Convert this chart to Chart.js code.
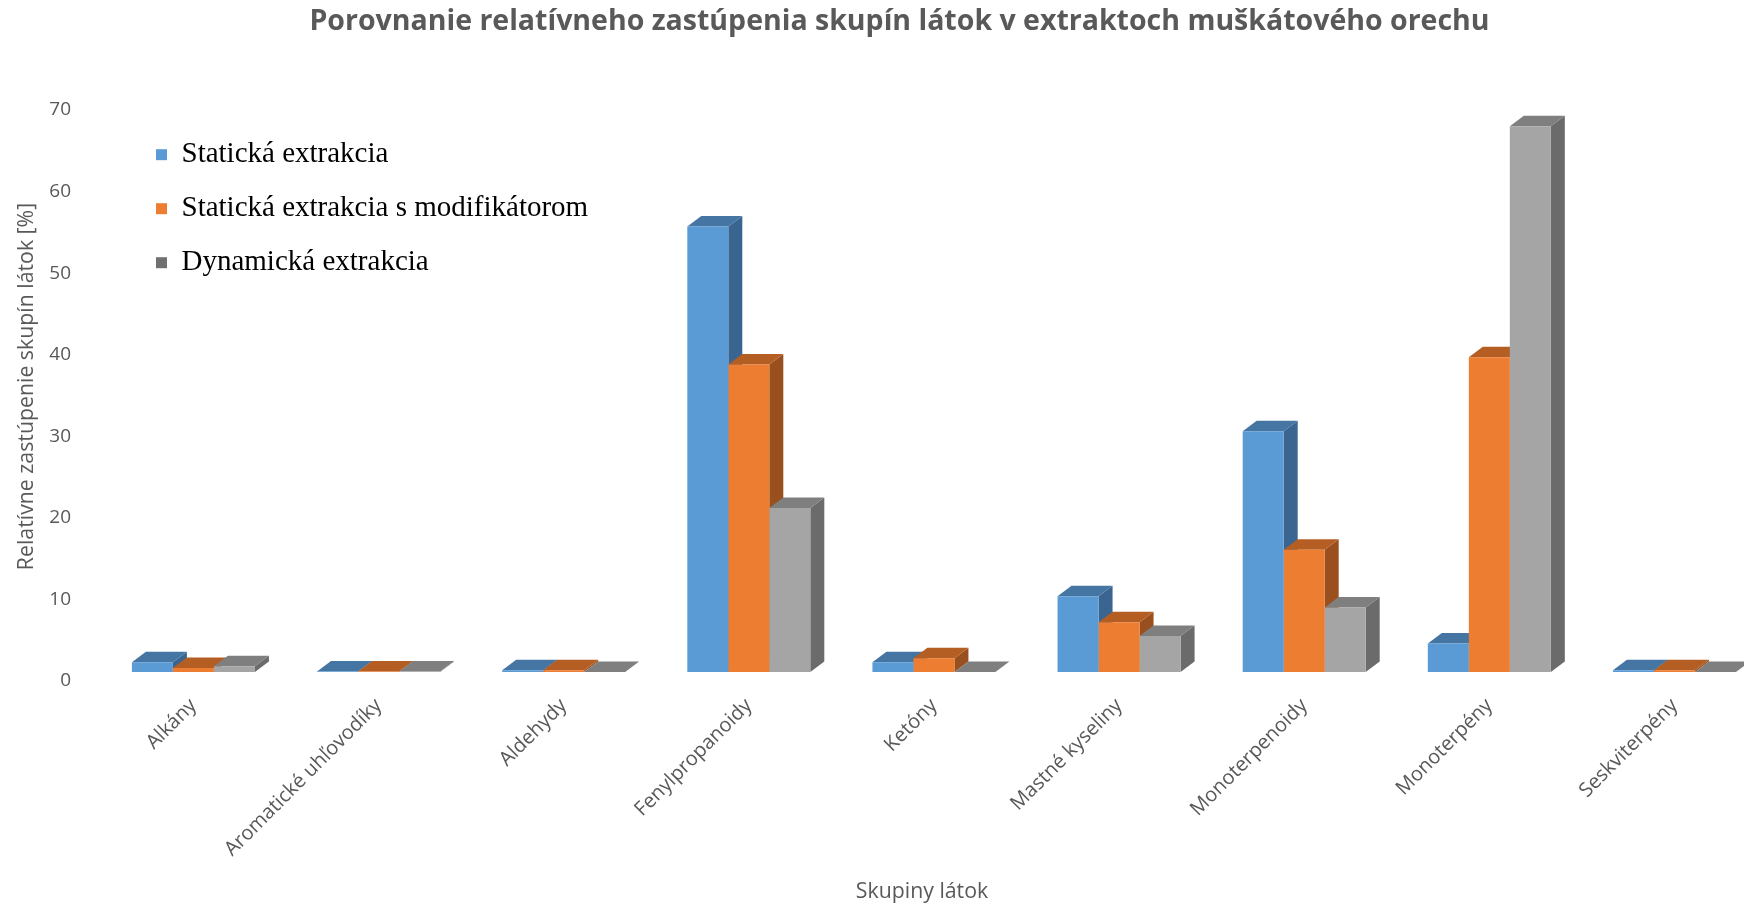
<!DOCTYPE html>
<html>
<head>
<meta charset="utf-8">
<script src="https://cdn.jsdelivr.net/npm/chart.js@4.4.1/dist/chart.umd.min.js"></script>
<style>
html,body{margin:0;padding:0;background:#ffffff;overflow:hidden;}
#wrap{width:1744px;height:910px;position:relative;}
</style>
</head>
<body>
<div id="wrap"><canvas id="c" width="1744" height="910"></canvas></div>
<script>
// ---- data ----
const categories = ['Alkány', 'Aromatické uhľovodíky', 'Aldehydy', 'Fenylpropanoidy', 'Ketóny', 'Mastné kyseliny', 'Monoterpenoidy', 'Monoterpény', 'Seskviterpény'];
const seriesNames = ['Statická extrakcia', 'Statická extrakcia s modifikátorom', 'Dynamická extrakcia'];
const staticka = [1.2, 0.05, 0.2, 54.6, 1.2, 9.3, 29.5, 3.5, 0.2];
const statickaModifikator = [0.5, 0.05, 0.2, 37.7, 1.7, 6.1, 15.0, 38.6, 0.2];
const dynamicka = [0.7, 0.05, 0, 20.1, 0, 4.4, 7.9, 66.9, 0];
const yTickValues = [0, 10, 20, 30, 40, 50, 60, 70];

// ---- styles ----
const frontColors = ['#5B9BD5', '#ED7D31', '#A5A5A5'];
const topColors = ['#4575A3', '#B45E24', '#7F7F7F'];
const sideColors = ['#3A6591', '#9A501E', '#6B6B6B'];
const legendColors = ['#5B9BD5', '#ED7D31', '#707070'];
const textGray = '#595959';
const DEPTH_X = 14, DEPTH_Y = 10.5;

const seriesValues = [staticka, statickaModifikator, dynamicka];

const bar3d = {
  id: 'bar3d',
  beforeDatasetsDraw(chart) {
    const ctx = chart.ctx;
    ctx.save();
    chart.data.datasets.forEach((ds, di) => {
      const meta = chart.getDatasetMeta(di);
      if (meta.hidden) return;
      meta.data.forEach(el => {
        const p = el.getProps(['x', 'y', 'base', 'width'], true);
        const l = p.x - p.width / 2, r = p.x + p.width / 2;
        const t = Math.min(p.y, p.base), b = p.base;
        ctx.fillStyle = sideColors[di];
        ctx.beginPath();
        ctx.moveTo(r, t); ctx.lineTo(r + DEPTH_X, t - DEPTH_Y);
        ctx.lineTo(r + DEPTH_X, b - DEPTH_Y); ctx.lineTo(r, b); ctx.closePath(); ctx.fill();
        ctx.fillStyle = topColors[di];
        ctx.beginPath();
        ctx.moveTo(l, t); ctx.lineTo(l + DEPTH_X, t - DEPTH_Y);
        ctx.lineTo(r + DEPTH_X, t - DEPTH_Y); ctx.lineTo(r, t); ctx.closePath(); ctx.fill();
      });
    });
    ctx.restore();
  }
};

// the title in the reference is centred slightly right of the canvas centre
const titleShift = {
  id: 'titleShift',
  afterLayout(chart) {
    if (chart.titleBlock) { chart.titleBlock.left = 86; }
  }
};

function build() {
  const datasets = seriesNames.map((name, i) => ({
    label: name,
    data: seriesValues[i].map((v, k) => ({ x: k, y: v })),
    backgroundColor: frontColors[i],
    borderWidth: 0,
    categoryPercentage: 0.6645,
    barPercentage: 1.0,
    clip: false
  }));

  new Chart(document.getElementById('c'), {
    type: 'bar',
    data: { datasets },
    plugins: [bar3d, titleShift],
    options: {
      responsive: false,
      devicePixelRatio: 1,
      animation: false,
      layout: { padding: { left: 0, right: 31, top: 0, bottom: 0 } },
      plugins: {
        title: {
          display: true,
          text: 'Porovnanie relatívneho zastúpenia skupín látok v extraktoch muškátového orechu',
          color: textGray,
          font: { family: 'Open Sans', size: 28.5, weight: 'bold' },
          padding: { top: 5, bottom: 61.8 }
        },
        legend: {
          position: 'chartArea',
          align: 'start',
          title: { display: true, text: '', font: { size: 1 }, padding: { top: 114, bottom: 0 } },
          labels: {
            font: { family: 'Liberation Serif', size: 29 },
            color: '#000000',
            boxWidth: 11,
            boxHeight: 11,
            padding: 25,
            generateLabels(chart) {
              return chart.data.datasets.map((ds, i) => ({
                text: ds.label,
                fillStyle: legendColors[i],
                strokeStyle: legendColors[i],
                lineWidth: 0,
                hidden: false,
                datasetIndex: i,
                fontColor: '#000000'
              }));
            }
          }
        },
        tooltip: { enabled: false }
      },
      scales: {
        x: {
          type: 'linear',
          min: -0.3371,
          max: 8.2082,
          offset: false,
          grid: { display: false, drawTicks: false },
          border: { display: false },
          afterBuildTicks(scale) { scale.ticks = categories.map((c, i) => ({ value: i })); },
          afterFit(scale) { scale.height = 238; },
          ticks: {
            autoSkip: false,
            minRotation: 45,
            maxRotation: 45,
            padding: 22,
            color: textGray,
            font: { family: 'Open Sans', size: 20 },
            callback: (v) => categories[v]
          },
          title: {
            display: true,
            text: 'Skupiny látok',
            color: textGray,
            font: { family: 'Open Sans', size: 21.3 },
            padding: { top: 0, bottom: 5 }
          }
        },
        y: {
          min: 0,
          max: 70,
          grid: { display: false, drawTicks: false },
          border: { display: false },
          afterBuildTicks(scale) { scale.ticks = yTickValues.map(v => ({ value: v })); },
          afterFit(scale) { scale.width = 131; },
          ticks: {
            padding: 60,
            labelOffset: 9,
            color: textGray,
            font: { family: 'Open Sans', size: 19 }
          },
          title: {
            display: true,
            text: 'Relatívne zastúpenie skupín látok [%]',
            color: textGray,
            font: { family: 'Open Sans', size: 21.3 },
            padding: { top: 13.7, bottom: 0 }
          }
        }
      }
    }
  });
}

Promise.all([
  document.fonts.load('bold 28px "Open Sans"'),
  document.fonts.load('20px "Open Sans"'),
  document.fonts.load('29px "Liberation Serif"')
]).then(build, build);
</script>
</body>
</html>
